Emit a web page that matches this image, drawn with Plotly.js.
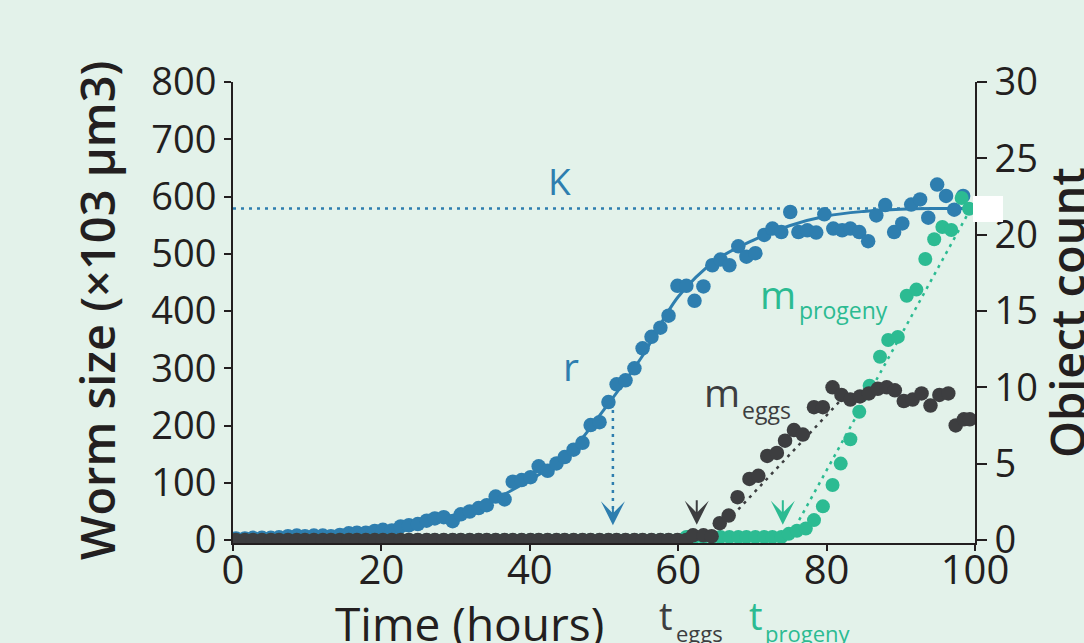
<!DOCTYPE html>
<html><head><meta charset="utf-8">
<script src="https://cdn.plot.ly/plotly-3.0.1.min.js"></script>
<style>html,body{margin:0;padding:0;background:#e3f2ea;}#chart{width:1084px;height:643px;}</style>
</head><body><div id="chart"></div>
<script>
// ---- data ----
const sizeHours = [0.4,1.6,2.7,3.9,5.1,6.2,7.4,8.6,9.7,10.9,12.1,13.2,14.4,15.6,16.7,17.9,19.1,20.2,21.4,22.6,23.7,24.9,26.1,27.2,28.4,29.6,30.7,31.9,33.1,34.2,35.4,36.6,37.7,38.9,40.1,41.2,42.4,43.6,44.7,45.9,47.1,48.2,49.4,50.6,51.7,52.9,54.1,55.2,56.4,57.6,58.7,59.9,61.1,62.2,63.4,64.6,65.7,66.9,68.1,69.2,70.4,71.6,72.7,73.9,75.1,76.2,77.4,78.6,79.7,80.9,82.1,83.2,84.4,85.6,86.7,87.9,89.1,90.2,91.4,92.6,93.7,94.9,96.1,97.2,98.4];
const wormSize = [3,3,4,4,4,5,7,8,7,8, 8,7,9,12,13,13,16,18,17,24, 26,28,34,38,40,33,45,50,56,61, 76,71,102,105,110,129,121,134,145,158, 170,201,206,241,272,279,300,335,355,371, 392,444,444,418,443,480,490,480,513,495, 501,533,544,538,573,538,541,537,569,544, 541,544,538,522,567,585,538,553,586,595, 563,621,601,577,601];

const fitHours = [0,5,10,15,20,25,30,35,40,45,50,55,60,65,70,75,80,85,90,95,98.5];
const fitSize  = [2,4,7,11,18,29,45,70,105,148,228,318,425,488,523,549,566,574,578,579,579];

const eggHours = [0.4,1.6,2.7,3.9,5.1,6.2,7.4,8.6,9.7,10.9,12.1,13.2,14.4,15.6,16.7,17.9,19.1,20.2,21.4,22.6,23.7,24.9,26.1,27.2,28.4,29.6,30.7,31.9,33.1,34.2,35.4,36.6,37.7,38.9,40.1,41.2,42.4,43.6,44.7,45.9,47.1,48.2,49.4,50.6,51.7,52.9,54.1,55.2,56.4,57.6,58.7,59.9,61.1,
  62.0,63.4,64.5,65.6,66.8,68.0,69.6,70.8,72.0,73.3,74.4,75.6,76.8,78.3,79.5,80.8,82.0,83.2,84.5,85.7,86.9,88.1,89.2,90.4,91.6,92.8,94.0,95.2,96.4,97.4,98.5,99.3];
const eggCount = [0,0,0,0,0,0,0,0,0,0,0,0,0,0,0,0,0,0,0,0,0,0,0,0,0,0,0,0,0,0,0,0,0,0,0,0,0,0,0,0,0,0,0,0,0,0,0,0,0,0,0,0,0,
  0.3,0.3,0.25,1.1,1.6,2.8,4.0,4.2,5.5,5.7,6.5,7.2,6.9,8.7,8.7,10.0,9.5,9.2,9.4,9.6,9.9,10.0,9.8,9.1,9.2,9.6,8.8,9.5,9.6,7.5,7.9,7.9];

const progenyHours = [0.4,1.6,2.7,3.9,5.1,6.2,7.4,8.6,9.7,10.9,12.1,13.2,14.4,15.6,16.7,17.9,19.1,20.2,21.4,22.6,23.7,24.9,26.1,27.2,28.4,29.6,30.7,31.9,33.1,34.2,35.4,36.6,37.7,38.9,40.1,41.2,42.4,43.6,44.7,45.9,47.1,48.2,49.4,50.6,51.7,52.9,54.1,55.2,56.4,57.6,58.7,59.9,
  61.1,62.2,63.4,64.6,65.7,66.9,68.1,69.2,70.4,71.6,72.7,73.9,
  74.9,76.0,77.2,78.3,79.5,80.8,81.9,83.2,84.4,85.8,87.2,88.3,89.6,90.8,92.1,93.3,94.5,95.6,96.8,98.2,99.2];
const progenyCount = [0,0,0,0,0,0,0,0,0,0,0,0,0,0,0,0,0,0,0,0,0,0,0,0,0,0,0,0,0,0,0,0,0,0,0,0,0,0,0,0,0,0,0,0,0,0,0,0,0,0,0,0,
  0.2,0.2,0.2,0.2,0.2,0.2,0.2,0.2,0.2,0.2,0.2,0.2,
  0.4,0.6,0.75,1.3,2.2,3.6,5.0,6.6,8.4,10.1,12.0,13.1,13.3,16.0,16.4,18.4,19.7,20.5,20.3,22.4,21.7];

// reference marks
const kHours = [0, 100];
const kSize = [579, 579];
const rHours = [51.2, 51.2];
const rSize = [241, 50];
const rArrowTip = 26;
const tEggs = 62.5, tProgeny = 74.1, tArrowTipCount = 1.0;
const eggSlopeHours = [68.1, 81.8];
const eggSlopeCount = [2.0, 9.1];
const progenySlopeHours = [76.3, 99.3];
const progenySlopeCount = [1.3, 21.6];

const xTicks = [0,20,40,60,80,100];
const sizeTicks = [0,100,200,300,400,500,600,700,800];
const countTicks = [0,5,10,15,20,25,30];

// ---- styling ----
const BLUE = '#2e7eaf', GRAY = '#3d3e40', GREEN = '#2cbb92', BG = '#e3f2ea', INK = '#231f20';
const FONT = 'Open Sans, sans-serif';
const L = 233, R = 975, T = 82, B = 543;
const PX = p => (p - L) / (R - L);
const PY = p => (B - p) / (B - T);
const DOT = '3px,5px';

function label(text, x, y, size, color, extra) {
  return Object.assign({text, xref:'paper', yref:'paper', x:PX(x), y:PY(y), showarrow:false,
    xanchor:'center', yanchor:'middle', font:{family:FONT, size, color}}, extra || {});
}

const traces = [
  {x: fitHours, y: fitSize, mode:'lines', line:{color:BLUE, width:3, shape:'spline'}, yaxis:'y'},
  {x: kHours, y: kSize, mode:'lines', line:{color:BLUE, width:2.5, dash:DOT}, yaxis:'y'},
  {x: rHours, y: rSize, mode:'lines', line:{color:BLUE, width:2.5, dash:DOT}, yaxis:'y'},
  {x: sizeHours, y: wormSize, mode:'markers', marker:{color:BLUE, size:14.5}, yaxis:'y'},
  {x: eggSlopeHours, y: eggSlopeCount, mode:'lines', line:{color:GRAY, width:2.5, dash:DOT}, yaxis:'y2'},
  {x: progenySlopeHours, y: progenySlopeCount, mode:'lines', line:{color:GREEN, width:2.5, dash:DOT}, yaxis:'y2'},
  {x: progenyHours, y: progenyCount, mode:'markers', marker:{color:GREEN, size:14}, yaxis:'y2'},
  {x: eggHours, y: eggCount, mode:'markers', marker:{color:GRAY, size:14.5}, yaxis:'y2'},
  // carrier for the tick-label axis (no marks)
  {x: [], y: [], mode:'markers', xaxis:'x2', yaxis:'y', hoverinfo:'skip'}
];

const axisBase = {showgrid:false, zeroline:false, showline:true, linecolor:INK, linewidth:2,
  ticks:'outside', tickcolor:INK, tickwidth:2, tickfont:{family:FONT, size:38, color:INK}};

const layout = {
  width:1084, height:643, paper_bgcolor:BG, plot_bgcolor:BG, showlegend:false, hovermode:false,
  margin:{l:L, r:1084-R, t:T, b:643-B, pad:0},
  xaxis: Object.assign({}, axisBase, {range:[0,100], tickvals:xTicks, ticklen:6, showticklabels:false}),
  xaxis2: {range:[0,100], tickvals:xTicks, overlaying:'x', anchor:'free', position:0, side:'bottom',
    showline:false, showgrid:false, zeroline:false, ticks:'', tickfont:{family:FONT, size:40, color:INK}},
  yaxis: Object.assign({}, axisBase, {range:[-5,800], tickvals:sizeTicks, ticklen:7}),
  yaxis2: Object.assign({}, axisBase, {range:[-0.2,30], tickvals:countTicks, ticklen:10, overlaying:'y', side:'right'}),
  shapes: [
    {type:'rect', xref:'paper', yref:'paper', x0:PX(973), x1:PX(1003), y0:PY(222), y1:PY(196), fillcolor:'#ffffff', line:{width:0}, layer:'above'}
  ],
  annotations: [
    label('Worm size (×103 μm3)', 97, 311, 47, INK, {textangle:-90, font:{family:FONT, size:47, color:INK, weight:600}}),
    label('Object count', 1067, 313, 47, INK, {textangle:-90, font:{family:FONT, size:47, color:INK, weight:600}}),
    label('Time (hours)', 469, 623, 46, INK),
    label('K', 559, 180, 37, BLUE),
    label('r', 571, 366, 39, BLUE),
    label('m', 722, 391, 39, GRAY),
    label('eggs', 740, 410, 23, GRAY, {xanchor:'left'}),
    label('m', 778, 293, 39, GREEN),
    label('progeny', 797, 310, 23, GREEN, {xanchor:'left'}),
    label('t', 666, 615, 38, GRAY),
    label('eggs', 674, 633, 22, GRAY, {xanchor:'left'}),
    label('t', 756, 615, 38, GREEN),
    label('progeny', 763, 633, 22, GREEN, {xanchor:'left'}),
    {x:rHours[0], y:rArrowTip, xref:'x', yref:'y', text:'', showarrow:true, ax:0, ay:-18,
      arrowhead:3, arrowsize:2, arrowwidth:2, arrowcolor:BLUE, standoff:0},
    {x:tEggs, y:tArrowTipCount, xref:'x', yref:'y2', text:'', showarrow:true, ax:0, ay:-26,
      arrowhead:3, arrowsize:2, arrowwidth:2, arrowcolor:GRAY, standoff:0},
    {x:tProgeny, y:tArrowTipCount, xref:'x', yref:'y2', text:'', showarrow:true, ax:0, ay:-26,
      arrowhead:3, arrowsize:2, arrowwidth:2, arrowcolor:GREEN, standoff:0}
  ]
};

Plotly.newPlot('chart', traces, layout, {displayModeBar:false, staticPlot:true});
</script></body></html>
